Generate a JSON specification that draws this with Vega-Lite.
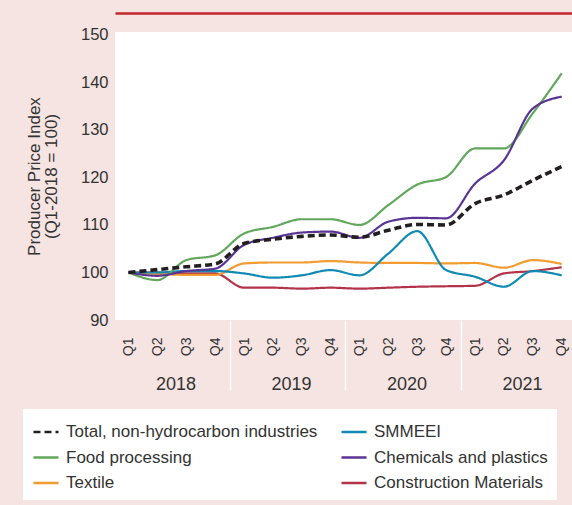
{
  "$schema": "https://vega.github.io/schema/vega-lite/v6.json",
  "width": 457,
  "height": 288,
  "autosize": {"type": "none"},
  "padding": {"left": 115, "top": 32, "right": 0, "bottom": 185},
  "background": "#F5E4E2",
  "config": {
    "view": {"fill": "white", "stroke": null},
    "font": "Liberation Sans, Arial, sans-serif"
  },
  "data": {"values": [
    {"q":"2018-Q1","s":"Construction Materials","v":100},
    {"q":"2018-Q2","s":"Construction Materials","v":100},
    {"q":"2018-Q3","s":"Construction Materials","v":99.8},
    {"q":"2018-Q4","s":"Construction Materials","v":99.8},
    {"q":"2019-Q1","s":"Construction Materials","v":96.8},
    {"q":"2019-Q2","s":"Construction Materials","v":96.8},
    {"q":"2019-Q3","s":"Construction Materials","v":96.6},
    {"q":"2019-Q4","s":"Construction Materials","v":96.8},
    {"q":"2020-Q1","s":"Construction Materials","v":96.6},
    {"q":"2020-Q2","s":"Construction Materials","v":96.8},
    {"q":"2020-Q3","s":"Construction Materials","v":97.0},
    {"q":"2020-Q4","s":"Construction Materials","v":97.1},
    {"q":"2021-Q1","s":"Construction Materials","v":97.2},
    {"q":"2021-Q2","s":"Construction Materials","v":99.8},
    {"q":"2021-Q3","s":"Construction Materials","v":100.3},
    {"q":"2021-Q4","s":"Construction Materials","v":101.1},
    {"q":"2018-Q1","s":"Textile","v":100},
    {"q":"2018-Q2","s":"Textile","v":99.7},
    {"q":"2018-Q3","s":"Textile","v":99.5},
    {"q":"2018-Q4","s":"Textile","v":99.5},
    {"q":"2019-Q1","s":"Textile","v":101.9},
    {"q":"2019-Q2","s":"Textile","v":102.1},
    {"q":"2019-Q3","s":"Textile","v":102.1},
    {"q":"2019-Q4","s":"Textile","v":102.4},
    {"q":"2020-Q1","s":"Textile","v":102.1},
    {"q":"2020-Q2","s":"Textile","v":102.0},
    {"q":"2020-Q3","s":"Textile","v":102.0},
    {"q":"2020-Q4","s":"Textile","v":101.9},
    {"q":"2021-Q1","s":"Textile","v":102.0},
    {"q":"2021-Q2","s":"Textile","v":101.0},
    {"q":"2021-Q3","s":"Textile","v":102.6},
    {"q":"2021-Q4","s":"Textile","v":101.8},
    {"q":"2018-Q1","s":"SMMEEI","v":100},
    {"q":"2018-Q2","s":"SMMEEI","v":100},
    {"q":"2018-Q3","s":"SMMEEI","v":100.3},
    {"q":"2018-Q4","s":"SMMEEI","v":100.3},
    {"q":"2019-Q1","s":"SMMEEI","v":99.8},
    {"q":"2019-Q2","s":"SMMEEI","v":98.9},
    {"q":"2019-Q3","s":"SMMEEI","v":99.4},
    {"q":"2019-Q4","s":"SMMEEI","v":100.5},
    {"q":"2020-Q1","s":"SMMEEI","v":99.4},
    {"q":"2020-Q2","s":"SMMEEI","v":104.0},
    {"q":"2020-Q3","s":"SMMEEI","v":108.7},
    {"q":"2020-Q4","s":"SMMEEI","v":100.5},
    {"q":"2021-Q1","s":"SMMEEI","v":99.1},
    {"q":"2021-Q2","s":"SMMEEI","v":97.0},
    {"q":"2021-Q3","s":"SMMEEI","v":100.3},
    {"q":"2021-Q4","s":"SMMEEI","v":99.4},
    {"q":"2018-Q1","s":"Food processing","v":100},
    {"q":"2018-Q2","s":"Food processing","v":98.4},
    {"q":"2018-Q3","s":"Food processing","v":102.6},
    {"q":"2018-Q4","s":"Food processing","v":103.6},
    {"q":"2019-Q1","s":"Food processing","v":108.2},
    {"q":"2019-Q2","s":"Food processing","v":109.6},
    {"q":"2019-Q3","s":"Food processing","v":111.2},
    {"q":"2019-Q4","s":"Food processing","v":111.2},
    {"q":"2020-Q1","s":"Food processing","v":110.0},
    {"q":"2020-Q2","s":"Food processing","v":114.2},
    {"q":"2020-Q3","s":"Food processing","v":118.5},
    {"q":"2020-Q4","s":"Food processing","v":120.1},
    {"q":"2021-Q1","s":"Food processing","v":126.1},
    {"q":"2021-Q2","s":"Food processing","v":126.1},
    {"q":"2021-Q3","s":"Food processing","v":133.5},
    {"q":"2021-Q4","s":"Food processing","v":141.9},
    {"q":"2018-Q1","s":"Chemicals and plastics","v":100},
    {"q":"2018-Q2","s":"Chemicals and plastics","v":99.3},
    {"q":"2018-Q3","s":"Chemicals and plastics","v":100.3},
    {"q":"2018-Q4","s":"Chemicals and plastics","v":100.8},
    {"q":"2019-Q1","s":"Chemicals and plastics","v":105.8},
    {"q":"2019-Q2","s":"Chemicals and plastics","v":107.3},
    {"q":"2019-Q3","s":"Chemicals and plastics","v":108.4},
    {"q":"2019-Q4","s":"Chemicals and plastics","v":108.6},
    {"q":"2020-Q1","s":"Chemicals and plastics","v":107.3},
    {"q":"2020-Q2","s":"Chemicals and plastics","v":110.7},
    {"q":"2020-Q3","s":"Chemicals and plastics","v":111.5},
    {"q":"2020-Q4","s":"Chemicals and plastics","v":111.4},
    {"q":"2021-Q1","s":"Chemicals and plastics","v":118.7},
    {"q":"2021-Q2","s":"Chemicals and plastics","v":123.6},
    {"q":"2021-Q3","s":"Chemicals and plastics","v":134.5},
    {"q":"2021-Q4","s":"Chemicals and plastics","v":137.0},
    {"q":"2018-Q1","s":"Total, non-hydrocarbon industries","v":100},
    {"q":"2018-Q2","s":"Total, non-hydrocarbon industries","v":100.6},
    {"q":"2018-Q3","s":"Total, non-hydrocarbon industries","v":101.2},
    {"q":"2018-Q4","s":"Total, non-hydrocarbon industries","v":101.8},
    {"q":"2019-Q1","s":"Total, non-hydrocarbon industries","v":106.1},
    {"q":"2019-Q2","s":"Total, non-hydrocarbon industries","v":107.0},
    {"q":"2019-Q3","s":"Total, non-hydrocarbon industries","v":107.6},
    {"q":"2019-Q4","s":"Total, non-hydrocarbon industries","v":107.9},
    {"q":"2020-Q1","s":"Total, non-hydrocarbon industries","v":107.4},
    {"q":"2020-Q2","s":"Total, non-hydrocarbon industries","v":108.9},
    {"q":"2020-Q3","s":"Total, non-hydrocarbon industries","v":110.1},
    {"q":"2020-Q4","s":"Total, non-hydrocarbon industries","v":110.0},
    {"q":"2021-Q1","s":"Total, non-hydrocarbon industries","v":114.5},
    {"q":"2021-Q2","s":"Total, non-hydrocarbon industries","v":116.3},
    {"q":"2021-Q3","s":"Total, non-hydrocarbon industries","v":119.4},
    {"q":"2021-Q4","s":"Total, non-hydrocarbon industries","v":122.3}
  ]},
  "resolve": {"axis": {"x": "independent"}},
  "layer": [
    {
      "mark": {"type": "line", "interpolate": "monotone", "strokeCap": "butt"},
      "encoding": {
        "x": {
          "field": "q", "type": "ordinal", "sort": null,
          "scale": {"type": "point", "padding": 0.412, "align": 0.567},
          "axis": {
            "orient": "bottom", "title": null,
            "labelExpr": "split(datum.value, '-')[1]",
            "labelAngle": 270, "labelAlign": "right", "labelBaseline": "middle",
            "ticks": false, "domain": false, "grid": false,
            "labelPadding": 17, "labelFontSize": 14, "labelColor": "#333333"
          }
        },
        "y": {
          "field": "v", "type": "quantitative",
          "scale": {"domain": [90, 150.6], "nice": false, "zero": false},
          "axis": {
            "values": [90, 100, 110, 120, 130, 140, 150],
            "domain": false, "ticks": false, "grid": false,
            "labelPadding": 7, "labelFontSize": 16.5, "labelColor": "#333333",
            "title": ["Producer Price Index", "(Q1-2018 = 100)"],
            "titleFontSize": 17, "titleFontWeight": "normal", "titleColor": "#333333",
            "titlePadding": 20, "titleLineHeight": 17
          }
        },
        "color": {
          "field": "s", "type": "nominal",
          "scale": {
            "domain": ["Total, non-hydrocarbon industries", "Food processing", "Textile", "SMMEEI", "Chemicals and plastics", "Construction Materials"],
            "range": ["#231F20", "#62A75C", "#F29B31", "#0E8AB4", "#5A3494", "#B2334A"]
          },
          "legend": {
            "orient": "none", "legendX": -92, "legendY": 377,
            "columns": 2, "gridAlign": "all", "fillColor": "white", "padding": 9,
            "title": null, "symbolType": "stroke", "symbolSize": 625, "symbolStrokeWidth": 2.5,
            "labelFontSize": 17, "labelColor": "#333333", "labelOffset": 6,
            "columnPadding": 18, "rowPadding": 3.5, "labelLimit": 400
          }
        },
        "strokeDash": {
          "field": "s", "type": "nominal",
          "scale": {
            "domain": ["Total, non-hydrocarbon industries", "Food processing", "Textile", "SMMEEI", "Chemicals and plastics", "Construction Materials"],
            "range": [[7, 4], [1, 0], [1, 0], [1, 0], [1, 0], [1, 0]]
          }
        },
        "strokeWidth": {
          "condition": {"test": "datum.s === 'Total, non-hydrocarbon industries'", "value": 3.6},
          "value": 2.2
        }
      }
    },
    {
      "mark": {"type": "point", "opacity": 0},
      "encoding": {
        "x": {
          "field": "q", "type": "ordinal", "sort": null,
          "axis": {
            "orient": "bottom", "title": null,
            "values": ["2018-Q1", "2019-Q1", "2020-Q1", "2021-Q1"],
            "labelExpr": "split(datum.value, '-')[0]",
            "domain": false, "grid": false, "ticks": true, "tickSize": 70,
            "tickColor": {"condition": {"test": "datum.value === '2018-Q1'", "value": "transparent"}, "value": "white"},
            "tickWidth": 1.5, "tickOffset": -14.44,
            "labelOffset": 61.4, "labelPadding": -15, "labelAngle": 0,
            "labelAlign": "center", "labelBaseline": "top",
            "labelFontSize": 18, "labelColor": "#333333"
          }
        }
      }
    },
    {
      "mark": {"type": "point", "opacity": 0},
      "encoding": {
        "x": {
          "field": "q", "type": "ordinal", "sort": null,
          "axis": {
            "orient": "top", "title": null, "labels": false, "ticks": false, "grid": false,
            "domain": true, "domainColor": "#C1272D", "domainWidth": 2.5, "offset": 19
          }
        }
      }
    }
  ]
}
